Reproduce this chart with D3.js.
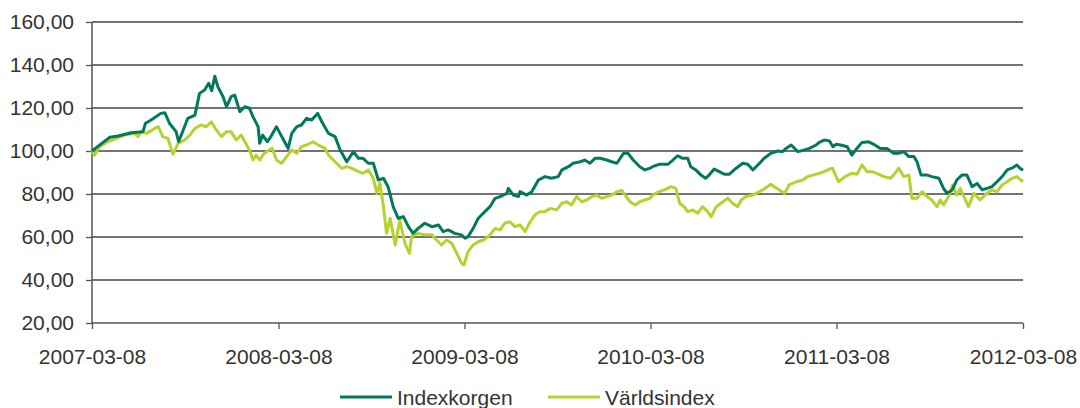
<!DOCTYPE html>
<html>
<head>
<meta charset="utf-8">
<script src="https://cdn.jsdelivr.net/npm/d3@7"></script>
<style>
	body { margin: 0; background: #fff; }
	#chart text { font-family: "Liberation Sans", Arial, sans-serif; fill: #333; }
</style>
</head>
<body>
<div id="chart"></div>
<script>
// Indexkorgen (dark green)
const indexDates = ['2007-03-08','2007-04-02','2007-04-12','2007-04-28','2007-05-24','2007-06-16','2007-06-21','2007-07-02','2007-07-21','2007-07-29',
	'2007-08-07','2007-08-20','2007-08-25','2007-09-12','2007-09-26','2007-10-05','2007-10-15','2007-10-23','2007-10-29','2007-11-04',
	'2007-11-10','2007-11-20','2007-11-27','2007-12-06','2007-12-13','2007-12-23','2008-01-02','2008-01-11','2008-01-18','2008-01-28',
	'2008-01-31','2008-02-06','2008-02-15','2008-02-22','2008-03-04','2008-03-11','2008-03-27','2008-04-03','2008-04-13','2008-04-22',
	'2008-05-02','2008-05-12','2008-05-24','2008-06-01','2008-06-14','2008-06-27','2008-07-07','2008-07-20','2008-08-02','2008-08-12',
	'2008-08-21','2008-08-31','2008-09-10','2008-09-20','2008-09-30','2008-10-09','2008-10-19','2008-10-29','2008-11-08','2008-11-18',
	'2008-11-27','2008-12-07','2008-12-20','2009-01-03','2009-01-16','2009-01-25','2009-02-04','2009-02-17','2009-03-02','2009-03-09',
	'2009-03-15','2009-03-25','2009-04-04','2009-04-17','2009-04-27','2009-05-07','2009-05-17','2009-05-30','2009-06-02','2009-06-12',
	'2009-06-22','2009-06-25','2009-07-08','2009-07-18','2009-07-31','2009-08-13','2009-08-26','2009-09-08','2009-09-15','2009-09-28',
	'2009-10-07','2009-10-21','2009-10-30','2009-11-09','2009-11-19','2009-11-29','2009-12-12','2009-12-22','2010-01-01','2010-01-14',
	'2010-01-23','2010-02-02','2010-02-15','2010-02-25','2010-03-07','2010-03-12','2010-03-25','2010-04-11','2010-04-21','2010-04-30',
	'2010-05-10','2010-05-20','2010-05-26','2010-06-05','2010-06-15','2010-06-24','2010-07-01','2010-07-11','2010-07-21','2010-07-31',
	'2010-08-10','2010-08-23','2010-09-05','2010-09-15','2010-09-25','2010-10-08','2010-10-17','2010-10-30','2010-11-13','2010-11-22',
	'2010-11-29','2010-12-09','2010-12-22','2011-01-04','2011-01-14','2011-01-27','2011-02-02','2011-02-12','2011-02-22','2011-03-01',
	'2011-03-07','2011-03-16','2011-03-29','2011-04-07','2011-04-17','2011-04-27','2011-05-10','2011-05-20','2011-06-02','2011-06-15',
	'2011-06-28','2011-07-08','2011-07-18','2011-07-28','2011-08-07','2011-08-13','2011-08-21','2011-09-02','2011-09-11','2011-09-25',
	'2011-10-04','2011-10-11','2011-10-21','2011-10-30','2011-11-09','2011-11-19','2011-11-29','2011-12-09','2011-12-19','2011-12-28',
	'2012-01-07','2012-01-17','2012-01-27','2012-02-06','2012-02-15','2012-02-25','2012-03-02','2012-03-08'];
const indexValues = [100.0,104.6,106.4,107.0,108.5,109.0,112.9,114.4,117.5,117.8,
	112.9,109.0,104.3,115.2,116.7,126.8,128.4,131.5,128.0,134.8,
	129.9,125.3,120.6,125.3,126.0,118.3,120.6,119.9,115.9,111.3,
	103.6,107.4,104.3,106.7,111.3,108.2,101.2,108.2,111.3,112.1,
	115.2,114.4,117.5,113.6,108.2,106.7,100.5,95.0,99.7,96.6,
	96.6,94.3,94.3,86.5,87.3,83.4,74.1,68.7,69.5,64.8,
	61.7,64.0,66.4,64.8,65.6,62.5,63.3,61.7,61.0,59.4,
	60.2,64.0,68.7,71.8,74.1,78.0,78.8,80.3,82.6,79.5,
	78.8,81.1,79.5,81.1,86.5,88.1,87.3,88.1,91.2,92.7,
	94.3,95.0,95.8,94.3,96.6,96.6,95.8,95.0,94.3,98.9,
	98.9,95.8,92.7,91.2,92.0,92.7,93.8,93.8,95.8,97.8,
	96.6,96.6,92.7,91.2,88.8,87.3,88.8,91.6,90.4,89.2,
	89.2,92.0,94.3,93.8,91.2,94.3,96.6,98.9,100.0,99.7,
	101.2,102.8,99.7,100.5,101.2,102.8,104.0,105.1,104.7,102.0,
	103.1,102.8,102.0,98.1,101.2,104.0,104.3,103.1,101.2,101.2,
	98.9,98.9,99.7,97.4,97.4,95.0,88.8,88.8,88.1,87.3,
	82.6,80.3,81.9,86.5,88.8,88.8,83.4,84.9,81.9,82.6,
	83.4,85.7,88.1,91.2,92.0,93.5,92.0,91.0];

// Världsindex (light green)
const worldDates = ['2007-03-08','2007-03-13','2007-03-23','2007-04-08','2007-04-25','2007-05-11','2007-05-31','2007-06-06','2007-06-13','2007-06-23',
	'2007-07-09','2007-07-16','2007-07-25','2007-08-04','2007-08-11','2007-08-14','2007-08-24','2007-09-06','2007-09-16','2007-09-26',
	'2007-10-08','2007-10-18','2007-10-28','2007-11-07','2007-11-17','2007-11-27','2007-12-06','2007-12-16','2007-12-26','2008-01-02',
	'2008-01-11','2008-01-18','2008-01-24','2008-01-31','2008-02-09','2008-02-19','2008-02-25','2008-03-04','2008-03-14','2008-03-24',
	'2008-04-03','2008-04-13','2008-04-22','2008-05-02','2008-05-15','2008-05-25','2008-06-07','2008-06-14','2008-06-27','2008-07-10',
	'2008-07-20','2008-07-30','2008-08-12','2008-08-21','2008-08-31','2008-09-10','2008-09-17','2008-09-23','2008-09-30','2008-10-06',
	'2008-10-13','2008-10-23','2008-11-01','2008-11-11','2008-11-20','2008-11-24','2008-12-07','2008-12-20','2009-01-03','2009-01-12',
	'2009-01-22','2009-02-01','2009-02-11','2009-02-21','2009-03-02','2009-03-07','2009-03-15','2009-03-25','2009-04-04','2009-04-14',
	'2009-04-27','2009-05-07','2009-05-17','2009-05-26','2009-06-05','2009-06-15','2009-06-25','2009-07-05','2009-07-15','2009-07-24',
	'2009-08-03','2009-08-13','2009-08-23','2009-09-05','2009-09-15','2009-09-25','2009-10-04','2009-10-14','2009-10-24','2009-11-03',
	'2009-11-13','2009-11-22','2009-12-02','2009-12-12','2009-12-22','2010-01-01','2010-01-11','2010-01-17','2010-01-27','2010-02-06',
	'2010-02-15','2010-02-25','2010-03-07','2010-03-12','2010-03-25','2010-04-08','2010-04-17','2010-04-27','2010-05-04','2010-05-13',
	'2010-05-20','2010-05-30','2010-06-09','2010-06-18','2010-06-28','2010-07-05','2010-07-15','2010-07-24','2010-08-07','2010-08-16',
	'2010-08-26','2010-09-02','2010-09-11','2010-09-25','2010-10-08','2010-10-17','2010-10-30','2010-11-06','2010-11-16','2010-11-26',
	'2010-12-05','2010-12-19','2011-01-01','2011-01-10','2011-01-20','2011-02-02','2011-02-12','2011-02-22','2011-02-28','2011-03-06',
	'2011-03-12','2011-03-25','2011-04-07','2011-04-17','2011-04-27','2011-05-07','2011-05-17','2011-05-26','2011-06-09','2011-06-22',
	'2011-07-01','2011-07-08','2011-07-18','2011-07-28','2011-08-03','2011-08-13','2011-08-23','2011-09-02','2011-09-11','2011-09-21',
	'2011-09-28','2011-10-04','2011-10-14','2011-10-22','2011-10-30','2011-11-06','2011-11-13','2011-11-22','2011-12-02','2011-12-15',
	'2011-12-28','2012-01-07','2012-01-17','2012-01-27','2012-02-06','2012-02-15','2012-02-25','2012-03-08'];
const worldValues = [100.0,98.1,102.0,104.3,105.9,107.4,108.2,106.7,109.0,108.2,
	110.5,111.3,106.7,105.9,100.5,98.5,103.6,105.1,107.4,110.5,
	112.1,111.3,113.6,109.8,106.7,109.0,109.0,105.1,107.4,104.3,
	100.5,95.8,98.1,95.8,98.9,100.5,101.2,95.8,94.3,97.4,
	100.5,98.9,102.0,102.8,104.3,102.8,101.2,98.1,95.0,91.9,
	92.7,91.9,90.4,89.6,91.2,87.3,80.3,85.0,74.1,61.7,
	68.7,56.3,67.9,57.1,52.4,60.2,61.7,61.0,61.0,58.6,
	56.3,58.6,57.1,52.4,47.8,47.0,53.2,56.3,57.8,58.6,
	61.0,64.0,63.3,66.4,67.1,64.8,65.6,62.5,67.1,70.2,
	71.8,71.8,73.3,72.6,75.7,76.4,74.9,78.8,76.4,77.2,
	78.8,79.5,78.0,78.8,79.5,81.1,81.6,79.5,76.4,74.9,
	76.4,77.2,78.0,79.5,81.1,82.3,83.4,82.6,75.7,74.1,
	71.8,72.6,71.1,74.1,71.8,69.4,74.1,75.7,78.0,75.7,
	74.1,77.2,78.8,79.5,81.1,82.3,84.5,83.4,81.9,80.3,
	84.2,85.7,86.5,88.1,88.8,89.6,90.4,91.6,92.0,88.8,
	85.7,88.1,89.6,89.2,93.5,90.4,90.4,89.6,88.1,87.3,
	89.6,92.0,88.1,88.8,78.0,78.0,81.1,78.8,77.2,74.1,
	77.2,74.9,78.8,84.2,79.5,82.6,78.8,74.1,80.3,77.2,
	80.3,81.9,81.1,84.2,85.7,87.3,88.1,85.7];

const xTicks = ['2007-03-08','2008-03-08','2009-03-08','2010-03-08','2011-03-08','2012-03-08'];
const yTicks = [20, 40, 60, 80, 100, 120, 140, 160];
const seriesNames = ['Indexkorgen', 'Världsindex'];
const seriesColors = ['#00795d', '#b8d030'];

const width = 1080, height = 408;
const margins = { top: 22, left: 92, right: 57, bottom: 85 };
const parse = d3.timeParse('%Y-%m-%d');
const innerW = width - margins.left - margins.right;
const innerH = height - margins.top - margins.bottom;

const sv = d3.formatLocale({ decimal: ',', thousands: ' ', grouping: [3], currency: ['', ' kr'] });
const fmtY = sv.format('.2f');

let svg = d3.select('#chart').append('svg')
	.attr('width', width)
	.attr('height', height);

let xScale = d3.scaleTime()
	.domain([parse(xTicks[0]), parse(xTicks[xTicks.length - 1])])
	.range([0, innerW]);
let yScale = d3.scaleLinear()
	.domain([20, 160])
	.range([innerH, 0]);

let body = svg.append('g').attr('transform', `translate(${margins.left},${margins.top})`);

// gridlines
body.append('g').attr('class', 'grid')
	.selectAll('line')
	.data(yTicks.slice(1))
	.join('line')
	.attr('x1', 0).attr('x2', innerW)
	.attr('y1', d => yScale(d)).attr('y2', d => yScale(d))
	.attr('stroke', '#444').attr('stroke-width', 1.3);

// y axis
let gY = body.append('g')
	.call(d3.axisLeft(yScale).tickValues(yTicks).tickFormat(fmtY).tickSize(6).tickPadding(12));
gY.select('.domain').attr('stroke', '#555').attr('stroke-width', 1.5).attr('d', `M0,${innerH}V0`);
gY.selectAll('.tick line').attr('stroke', '#555').attr('stroke-width', 1.3);
gY.selectAll('text').attr('font-size', '21px').attr('fill', '#333');

// x axis
let gX = body.append('g')
	.attr('transform', `translate(0,${innerH})`)
	.call(d3.axisBottom(xScale).tickValues(xTicks.map(parse)).tickFormat(d3.timeFormat('%Y-%m-%d')).tickSize(6).tickPadding(20));
gX.select('.domain').attr('stroke', '#555').attr('stroke-width', 1.5).attr('d', `M0,0H${innerW}`);
gX.selectAll('.tick line').attr('stroke', '#555').attr('stroke-width', 1.3);
gX.selectAll('text').attr('font-size', '21px').attr('fill', '#333');

// lines
let line = d3.line()
	.x(d => xScale(d[0]))
	.y(d => yScale(d[1]));

let series = [
	indexDates.map((d, i) => [parse(d), indexValues[i]]),
	worldDates.map((d, i) => [parse(d), worldValues[i]])
];

// world index drawn first so the dark line sits on top
[1, 0].forEach(k => {
	body.append('path')
		.datum(series[k])
		.attr('fill', 'none')
		.attr('stroke', seriesColors[k])
		.attr('stroke-width', 3)
		.attr('stroke-linejoin', 'round')
		.attr('d', line);
});

// legend
let legend = svg.append('g').attr('class', 'legend');
let legendX = [340, 548];
seriesNames.forEach((name, i) => {
	let g = legend.append('g').attr('transform', `translate(${legendX[i]},397)`);
	g.append('line').attr('x1', 0).attr('x2', 52).attr('y1', 0).attr('y2', 0)
		.attr('stroke', seriesColors[i]).attr('stroke-width', 3);
	g.append('text').attr('x', 57).attr('y', 8)
		.attr('font-size', '21px').attr('fill', '#333')
		.text(name);
});
</script>
</body>
</html>
